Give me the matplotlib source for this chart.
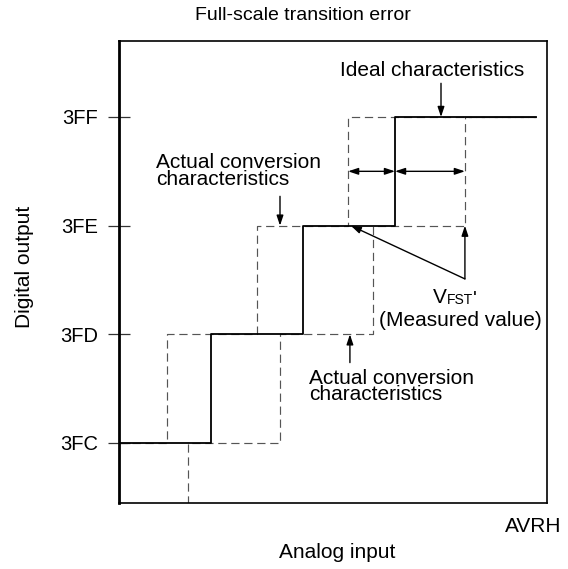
import matplotlib
matplotlib.use("Agg")
import matplotlib.pyplot as plt

plt.rcParams['font.family'] = ['Liberation Sans', 'DejaVu Sans']

# output codes on the y axis
codes = [0x3FC, 0x3FD, 0x3FE, 0x3FF]
code_labels = ["3FC", "3FD", "3FE", "3FF"]

# transition points along the analog input (in LSB widths from the left edge)
ideal_edges = [1.0, 2.0, 3.0]
actual_low_edges = [0.52, 1.5, 2.49]
actual_high_edges = [0.75, 1.75, 2.76, 3.76]
x_end = 4.53

W, H = 568, 569
X0, XPX = 119, 92.0          # pixel of x = 0 and pixels per LSB
Y0, YPX = 443, 108.67        # pixel of 3FC and pixels per code


def steps(edges, first_code, x_stop):
    xs, ys = [0.0], [first_code]
    c = first_code
    for e in edges:
        xs += [e, e]
        ys += [c, c + 1]
        c += 1
    xs.append(x_stop)
    ys.append(c)
    return xs, ys


fig = plt.figure(figsize=(W / 100, H / 100), dpi=100)
ax = fig.add_axes([X0 / W, 1 - 503 / H, (547 - X0) / W, (503 - 41) / H])
ax.set_xlim(0, (547 - X0) / XPX)
ax.set_ylim(codes[0] - (503 - Y0) / YPX, codes[0] + (Y0 - 41) / YPX)

dash = dict(color='#555555', lw=0.85, linestyle=(0, (7, 4)), zorder=2)
ax.plot(*steps(actual_low_edges, codes[0], x_end), **dash)
ax.plot(*steps(actual_high_edges, codes[0] - 1, x_end), **dash)
ax.plot(*steps(ideal_edges, codes[0], x_end), color='black', lw=1.3, zorder=3)

ax.set_xticks([])
ax.set_yticks(codes)
ax.set_yticklabels(code_labels, fontsize=14.5)
ax.tick_params(axis='y', direction='inout', length=16.5, width=0.9,
               color='#333333', pad=7)
for s in ax.spines.values():
    s.set_linewidth(1.2)
ax.spines['left'].set_linewidth(2.0)

head = '-|>,head_length=0.6,head_width=0.2'
dbl = '<|-|>,head_length=0.6,head_width=0.2'


def arrow(tail, tip, style=head):
    ax.annotate("", xy=tip, xytext=tail,
                arrowprops=dict(arrowstyle=style, color='black', lw=1.0,
                                shrinkA=0, shrinkB=0, mutation_scale=10))


fs = 15
top = codes[-1]

# ideal characteristics label
ax.text(3.40, 1023.43, "Ideal characteristics", fontsize=fs, ha='center', va='center')
arrow((3.5, 1023.31), (3.5, top))

# width arrows on the 3FE -> 3FF transition
arrow((actual_low_edges[2], 1022.5), (ideal_edges[2], 1022.5), dbl)
arrow((ideal_edges[2], 1022.5), (actual_high_edges[3], 1022.5), dbl)

# upper actual conversion label
ax.text(0.40, 1022.50, "Actual conversion\ncharacteristics", fontsize=fs,
        ha='left', va='center', linespacing=0.86)
arrow((actual_high_edges[1], 1022.27), (actual_high_edges[1], codes[2]))

# lower actual conversion label
ax.text(2.07, 1020.52, "Actual conversion\ncharacteristics", fontsize=fs,
        ha='left', va='center', linespacing=0.86)
arrow((2.51, 1020.74), (2.51, codes[1]))

# VFST' measured value
vtail = (actual_high_edges[3], 1021.51)
arrow(vtail, (actual_high_edges[3], codes[2]))
arrow(vtail, (actual_low_edges[2] + 0.03, codes[2]))
tv = ax.text(3.41, 1021.34, "V", fontsize=fs, ha='left', va='center')
tf = ax.annotate("FST", xy=(1, 0), xycoords=tv, fontsize=10, ha='left', va='bottom')
ax.annotate("'", xy=(1, 0), xycoords=tf, fontsize=fs, ha='left', va='bottom',
            xytext=(0, -1.5), textcoords='offset points')
ax.text(4.60, 1021.13, "(Measured value)", fontsize=fs, ha='right', va='center')

fig.text(303 / W, 1 - 15 / H, "Full-scale transition error", fontsize=14,
         ha='center', va='center')
fig.text(24 / W, 1 - 267 / H, "Digital output", fontsize=fs, rotation=90,
         ha='center', va='center')
fig.text(533 / W, 1 - 526 / H, "AVRH", fontsize=fs, ha='center', va='center')
fig.text(337 / W, 1 - 553 / H, "Analog input", fontsize=fs, ha='center', va='center')

fig.savefig("out.png", dpi=100)
